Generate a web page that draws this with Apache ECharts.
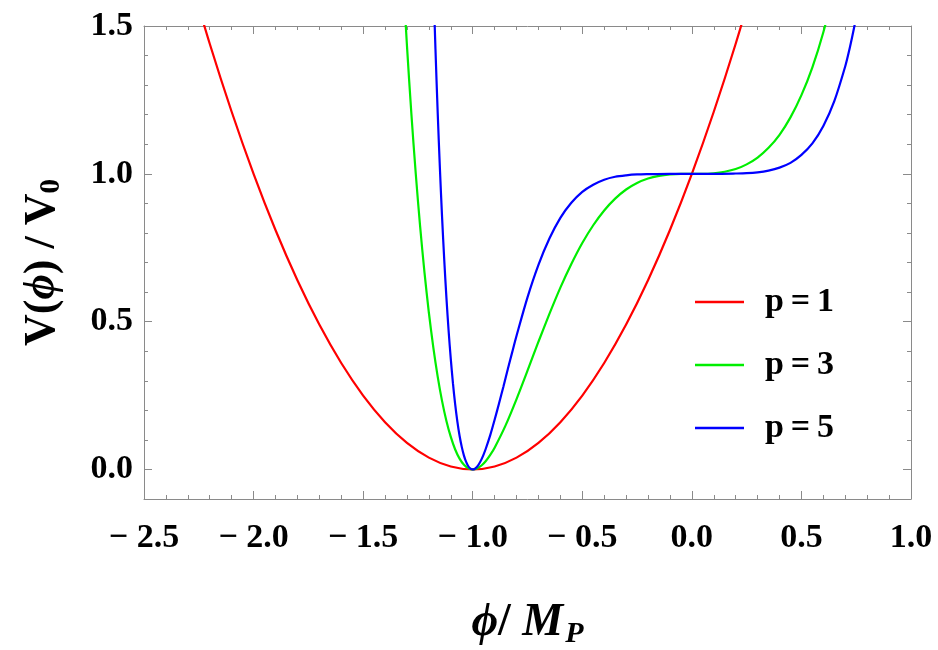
<!DOCTYPE html>
<html>
<head>
<meta charset="utf-8">
<script src="https://cdn.jsdelivr.net/npm/echarts@6/dist/echarts.min.js"></script>
<style>
  html, body { margin: 0; padding: 0; background: #fff; }
  #main { width: 938px; height: 650px; }
</style>
</head>
<body>
<div id="main"></div>
<script>
// values: [phi/M_P, V/V0]
var p1Points = [
  [-2.3, 1.69], [-2.2, 1.44], [-2.1, 1.21], [-2.0, 1.00], [-1.9, 0.81], [-1.8, 0.64],
  [-1.7, 0.49], [-1.6, 0.36], [-1.5, 0.25], [-1.4, 0.16], [-1.3, 0.09], [-1.2, 0.04],
  [-1.1, 0.01], [-1.0, 0.00], [-0.9, 0.01], [-0.8, 0.04], [-0.7, 0.09], [-0.6, 0.16],
  [-0.5, 0.25], [-0.4, 0.36], [-0.3, 0.49], [-0.2, 0.64], [-0.1, 0.81], [0.0, 1.00],
  [0.1, 1.21], [0.2, 1.44], [0.3, 1.69]
];
var p3Points = [
  [-1.32, 1.690], [-1.30, 1.433], [-1.28, 1.204], [-1.26, 1.001], [-1.24, 0.822],
  [-1.22, 0.666], [-1.20, 0.530], [-1.18, 0.414], [-1.16, 0.315], [-1.14, 0.232],
  [-1.12, 0.164], [-1.10, 0.110], [-1.08, 0.0675], [-1.06, 0.0365], [-1.04, 0.0156],
  [-1.02, 0.0038], [-1.00, 0.0], [-0.98, 0.0035], [-0.96, 0.0133], [-0.94, 0.0287],
  [-0.92, 0.049], [-0.90, 0.0734], [-0.85, 0.149], [-0.80, 0.238], [-0.75, 0.334],
  [-0.70, 0.432], [-0.65, 0.526], [-0.60, 0.615], [-0.55, 0.695], [-0.50, 0.766],
  [-0.45, 0.826], [-0.40, 0.876], [-0.35, 0.916], [-0.30, 0.947], [-0.25, 0.969],
  [-0.20, 0.984], [-0.15, 0.993], [-0.10, 0.998], [-0.05, 1.000], [0.00, 1.000],
  [0.05, 1.000], [0.10, 1.002], [0.15, 1.007], [0.20, 1.016], [0.25, 1.032],
  [0.30, 1.055], [0.35, 1.088], [0.40, 1.132], [0.45, 1.191], [0.50, 1.266],
  [0.55, 1.360], [0.60, 1.479], [0.65, 1.625]
];
var p5Points = [
  [-1.19, 1.922], [-1.18, 1.658], [-1.17, 1.422], [-1.16, 1.211], [-1.15, 1.023],
  [-1.14, 0.856], [-1.13, 0.710], [-1.12, 0.581], [-1.11, 0.469], [-1.10, 0.373],
  [-1.09, 0.290], [-1.08, 0.220], [-1.07, 0.162], [-1.06, 0.114], [-1.05, 0.0763],
  [-1.04, 0.0469], [-1.03, 0.0254], [-1.02, 0.0108], [-1.01, 0.0026], [-1.00, 0.0],
  [-0.99, 0.0024], [-0.98, 0.0092], [-0.97, 0.020], [-0.96, 0.0341], [-0.95, 0.0512],
  [-0.94, 0.0708], [-0.92, 0.116], [-0.90, 0.168], [-0.88, 0.223], [-0.86, 0.280],
  [-0.84, 0.339], [-0.82, 0.396], [-0.80, 0.452], [-0.75, 0.582], [-0.70, 0.692],
  [-0.65, 0.781], [-0.60, 0.851], [-0.55, 0.902], [-0.50, 0.939], [-0.45, 0.963],
  [-0.40, 0.980], [-0.35, 0.990], [-0.30, 0.995], [-0.25, 0.998], [-0.20, 0.999],
  [-0.10, 1.000], [0.00, 1.000], [0.10, 1.000], [0.20, 1.001], [0.25, 1.002],
  [0.30, 1.005], [0.35, 1.011], [0.40, 1.021], [0.45, 1.037], [0.50, 1.064],
  [0.55, 1.103], [0.60, 1.162], [0.65, 1.246], [0.70, 1.364], [0.72, 1.424],
  [0.74, 1.493], [0.76, 1.571]
];
var seriesNames = ['p\u2009=\u20091', 'p\u2009=\u20093', 'p\u2009=\u20095'];
var seriesColors = ['#ff0000', '#00ee00', '#0000ff'];
var yLabelValues = [0, 0.5, 1.0, 1.5];

var serif = "'Liberation Serif', 'DejaVu Serif', serif";
var axisGray = '#8a8a8a';

function fmtX(v) {
  if (Math.abs(v) < 1e-9) return '0.0';
  return v < 0 ? '\u2212 ' + (-v).toFixed(1) : v.toFixed(1);
}

function xAxisCfg(pos, withLabels) {
  return {
    type: 'value', position: pos, min: -2.5, max: 1.0, interval: 0.5,
    axisLine: { show: true, onZero: false, lineStyle: { color: axisGray, width: 1 } },
    axisTick: { show: true, inside: true, length: 8, lineStyle: { color: axisGray } },
    minorTick: { show: true, splitNumber: 5, length: 4, lineStyle: { color: axisGray } },
    splitLine: { show: false },
    axisLabel: withLabels ? {
      show: true, margin: 22, color: '#000', fontFamily: serif, fontWeight: 'bold', fontSize: 34,
      formatter: fmtX
    } : { show: false }
  };
}

function yAxisCfg(pos, major, withLabels) {
  var a = {
    type: 'value', position: pos, min: -0.1, max: 1.5, interval: 0.1,
    axisLine: { show: !major, onZero: false, lineStyle: { color: axisGray, width: 1 } },
    axisTick: { show: true, inside: true, length: major ? 8 : 4, lineStyle: { color: axisGray } },
    splitLine: { show: false },
    axisLabel: { show: false }
  };
  if (major) a.axisTick.customValues = yLabelValues;
  if (withLabels) {
    a.axisLabel = {
      show: true, margin: 11, color: '#000', fontFamily: serif, fontWeight: 'bold', fontSize: 34,
      padding: [10, 0, 0, 0], customValues: yLabelValues,
      formatter: function (v) { return v.toFixed(1); }
    };
  }
  return a;
}

var myChart = echarts.init(document.getElementById('main'));

var xBottom = xAxisCfg('bottom', true);
xBottom.name = '{i|\u03d5}{n|/ }{i|M}{s|P}';
xBottom.nameLocation = 'middle';
xBottom.nameGap = 98;
xBottom.nameTextStyle = {
  fontFamily: serif, fontWeight: 'bold', fontSize: 46, color: '#000',
  rich: {
    i: { fontFamily: serif, fontWeight: 'bold', fontStyle: 'italic', fontSize: 46, color: '#000' },
    n: { fontFamily: serif, fontWeight: 'bold', fontSize: 46, color: '#000' },
    s: { fontFamily: serif, fontWeight: 'bold', fontStyle: 'italic', fontSize: 30, color: '#000',
         verticalAlign: 'bottom', padding: [22, 0, 0, 2] }
  }
};

var yLeft = yAxisCfg('left', false, true);
yLeft.name = '{n|V(}{i|\u03d5}{n|) / V}{s|0}';
yLeft.nameLocation = 'middle';
yLeft.nameGap = 78;
yLeft.nameTextStyle = {
  fontFamily: serif, fontWeight: 'bold', fontSize: 44, color: '#000',
  rich: {
    i: { fontFamily: serif, fontWeight: 'bold', fontStyle: 'italic', fontSize: 44, color: '#000' },
    n: { fontFamily: serif, fontWeight: 'bold', fontSize: 44, color: '#000' },
    s: { fontFamily: serif, fontWeight: 'bold', fontSize: 29, color: '#000',
         verticalAlign: 'bottom', padding: [18, 0, 0, 0] }
  }
};

var pointSets = [p1Points, p3Points, p5Points];
var series = pointSets.map(function (pts, i) {
  return {
    name: seriesNames[i],
    type: 'line',
    data: pts,
    xAxisIndex: 0,
    yAxisIndex: 0,
    symbol: 'none',
    smooth: 0.3,
    clip: true,
    lineStyle: { color: seriesColors[i], width: 2.2 },
    itemStyle: { color: seriesColors[i] },
    animation: false
  };
});

var option = {
  animation: false,
  backgroundColor: '#fff',
  grid: { left: 144, right: 27, top: 26, bottom: 151, outerBoundsMode: 'none' },
  legend: {
    orient: 'vertical', left: 690, top: 280,
    icon: 'rect', itemWidth: 49, itemHeight: 2.5, itemGap: 29,
    textStyle: { fontFamily: serif, fontWeight: 'bold', fontSize: 34, color: '#000', padding: [0, 0, 0, 16] },
    data: seriesNames
  },
  xAxis: [xBottom, xAxisCfg('top', false)],
  yAxis: [yLeft, yAxisCfg('left', true, false), yAxisCfg('right', false, false), yAxisCfg('right', true, false)],
  series: series
};
myChart.setOption(option);
</script>
</body>
</html>
